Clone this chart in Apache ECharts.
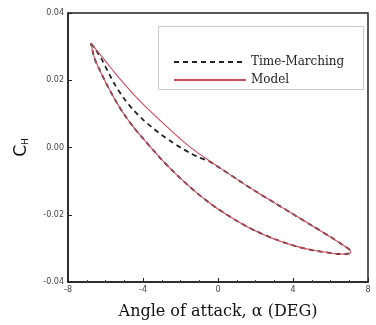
<!DOCTYPE html>
<html><head><meta charset="utf-8">
<script src="https://cdn.jsdelivr.net/npm/echarts@6/dist/echarts.min.js"></script>
<style>html,body{margin:0;padding:0;background:#fff}#c{width:376px;height:325px}</style>
</head><body><div id="c"></div>
<script>
// ---- data ----
const seriesNames = ['Time-Marching', 'Model'];
const xTicks = [-8, -4, 0, 4, 8];
const yTicks = [-0.04, -0.02, 0.00, 0.02, 0.04];

// Model loop: upper branch (peak -> right tip), then lower branch (tip -> peak)
const modelAlpha = [-6.78,-6.5,-6.0,-5.5,-5.0,-4.5,-4.0,-3.5,-3.0,-2.5,-2.0,-1.5,-1.0,-0.5,0.0,1.0,2.0,3.0,4.0,5.0,6.0,6.5,6.8,7.0,7.08,
  7.0,6.7,6.3,5.8,5.0,4.0,3.0,2.0,1.5,1.0,0.5,0.0,-0.5,-1.0,-1.5,-2.0,-2.5,-3.0,-3.5,-4.0,-4.5,-5.0,-5.5,-6.0,-6.35,-6.6,-6.78];
const modelCH = [0.0310,0.0291,0.0257,0.0222,0.0189,0.0158,0.0129,0.0102,0.0076,0.0050,0.0025,0.0002,-0.0019,-0.0038,-0.0057,-0.0094,-0.0130,-0.0164,-0.0198,-0.0232,-0.0266,-0.0284,-0.0295,-0.0303,-0.0310,
  -0.0315,-0.0317,-0.0316,-0.0312,-0.0305,-0.0291,-0.0272,-0.0248,-0.0234,-0.0218,-0.0201,-0.0183,-0.0163,-0.0141,-0.0117,-0.0092,-0.0065,-0.0036,-0.0005,0.0027,0.0060,0.0098,0.0143,0.0195,0.0235,0.0268,0.0310];

// Time-marching loop
const tmAlpha = [-6.78,-6.5,-6.2,-5.8,-5.5,-5.0,-4.5,-4.0,-3.5,-3.0,-2.5,-2.0,-1.5,-1.0,-0.5,0.0,1.0,2.0,3.0,4.0,5.0,6.0,6.5,6.8,7.0,7.08,
  7.0,6.7,6.3,5.8,5.0,4.0,3.0,2.0,1.5,1.0,0.5,0.0,-0.5,-1.0,-1.5,-2.0,-2.5,-3.0,-3.5,-4.0,-4.5,-5.0,-5.5,-6.0,-6.35,-6.6,-6.78];
const tmCH = [0.0310,0.0289,0.0262,0.0218,0.0187,0.0145,0.0111,0.0083,0.0059,0.0037,0.0018,0.0000,-0.0016,-0.0030,-0.0040,-0.0057,-0.0094,-0.0130,-0.0164,-0.0198,-0.0232,-0.0266,-0.0284,-0.0295,-0.0303,-0.0310,
  -0.0315,-0.0317,-0.0316,-0.0312,-0.0305,-0.0291,-0.0272,-0.0248,-0.0234,-0.0218,-0.0201,-0.0183,-0.0163,-0.0141,-0.0117,-0.0092,-0.0065,-0.0036,-0.0005,0.0027,0.0060,0.0098,0.0143,0.0195,0.0235,0.0268,0.0310];

const pairs = (xs, ys) => xs.map((x, i) => [x, ys[i]]);

const chart = echarts.init(document.getElementById('c'), null, {renderer: 'canvas'});
const tickLabel = {fontFamily: 'DejaVu Sans', fontSize: 8, color: '#444'};
chart.setOption({
  animation: false,
  backgroundColor: '#fff',
  grid: {left: 68, right: 8, top: 13, bottom: 41, show: true, borderColor: '#222', borderWidth: 1.5},
  graphic: [{
    type: 'rect', left: 158, top: 26, shape: {width: 205, height: 63},
    style: {fill: '#fff', stroke: '#c3cdda', lineWidth: 1}, z: 5
  }],
  legend: {
    data: seriesNames, orient: 'vertical', left: 168, top: 51, z: 6,
    itemWidth: 72, itemHeight: 12, itemGap: 6,
    itemStyle: {opacity: 0, borderWidth: 0},
    textStyle: {fontFamily: 'DejaVu Serif', fontSize: 12, color: '#222'}
  },
  xAxis: {
    type: 'value', min: xTicks[0], max: xTicks[xTicks.length - 1], interval: 4,
    name: 'Angle of attack, \u03b1 (DEG)', nameLocation: 'middle', nameGap: 22,
    nameTextStyle: {fontFamily: 'DejaVu Serif', fontSize: 16, color: '#111'},
    axisLine: {onZero: false, lineStyle: {color: '#222', width: 1.5}},
    axisTick: {inside: true, length: 4, lineStyle: {color: '#222'}},
    minorTick: {show: true, splitNumber: 4, length: 2, lineStyle: {color: '#444'}},
    splitLine: {show: false},
    axisLabel: Object.assign({margin: 4, formatter: v => String(v)}, tickLabel)
  },
  yAxis: {
    type: 'value', min: yTicks[0], max: yTicks[yTicks.length - 1], interval: 0.02,
    name: '{c|C}{s|H}', nameLocation: 'middle', nameGap: 38, nameRotate: 90,
    nameTextStyle: {rich: {
      c: {fontFamily: 'DejaVu Sans', fontSize: 17, color: '#111'},
      s: {fontFamily: 'DejaVu Sans', fontSize: 9, color: '#111', padding: [8, 0, 0, 0]}
    }},
    axisLine: {onZero: false, lineStyle: {color: '#222', width: 1.5}},
    axisTick: {inside: true, length: 4, lineStyle: {color: '#222'}},
    splitLine: {show: false},
    axisLabel: Object.assign({margin: 4, formatter: v => v.toFixed(2)}, tickLabel)
  },
  series: [
    {name: seriesNames[0], type: 'line', data: pairs(tmAlpha, tmCH), symbol: 'none', smooth: 0.3,
     lineStyle: {color: '#222', width: 1.8, type: [5, 4]}, itemStyle: {color: '#222'}, z: 3},
    {name: seriesNames[1], type: 'line', data: pairs(modelAlpha, modelCH), symbol: 'none', smooth: 0.3,
     lineStyle: {color: '#cf4a5c', width: 1.1}, itemStyle: {color: '#cf4a5c'}, z: 4}
  ]
});
</script></body></html>
